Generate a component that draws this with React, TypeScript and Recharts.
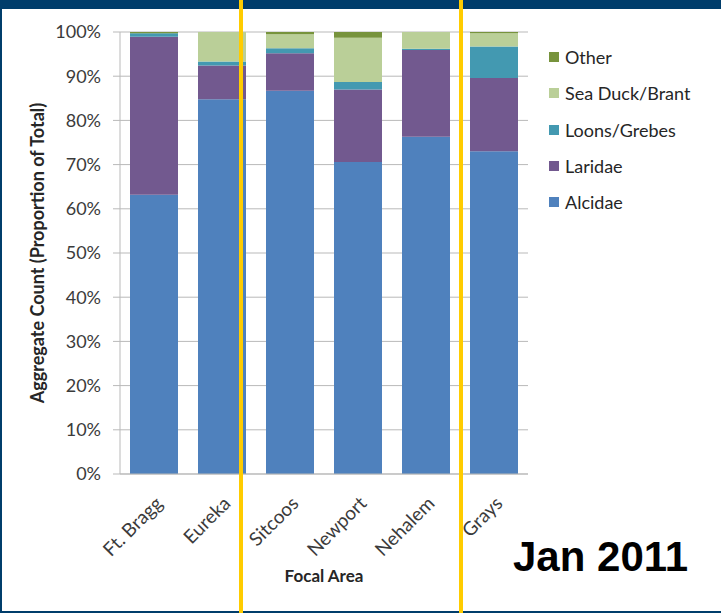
import { BarChart, Bar, XAxis, YAxis, CartesianGrid, Legend, Label } from 'recharts';

// focal areas along the coast
const areas = ['Ft. Bragg', 'Eureka', 'Sitcoos', 'Newport', 'Nehalem', 'Grays'];

// proportion of total count (%)
const alcidae = [63.2, 84.8, 86.7, 70.6, 76.3, 73.0];
const laridae = [35.7, 7.6, 8.5, 16.4, 19.6, 16.6];
const loonsGrebes = [0.8, 0.9, 1.1, 1.7, 0.3, 7.1];
const seaDuckBrant = [0.0, 6.7, 3.2, 10.0, 3.8, 3.0];
const other = [0.3, 0.0, 0.5, 1.3, 0.0, 0.3];

// stacking order, bottom to top
const seriesNames = ['Alcidae', 'Laridae', 'Loons/Grebes', 'Sea Duck/Brant', 'Other'];
const seriesColors = ['#4F81BD', '#72598F', '#4399B1', '#BACF98', '#77933C'];

const yTicks = [0, 10, 20, 30, 40, 50, 60, 70, 80, 90, 100];
// category boundaries (tick marks sit between the bars)
const edges = [0, 1, 2, 3, 4, 5, 6];

const rows = areas.map((name, i) => ({
    name,
    edge: i + 0.5,
    Alcidae: alcidae[i],
    Laridae: laridae[i],
    'Loons/Grebes': loonsGrebes[i],
    'Sea Duck/Brant': seaDuckBrant[i],
    Other: other[i],
}));

const FONT = 'Lato, "Open Sans", sans-serif';
const TEXT = '#3b3b3b';
const GRID = '#b9b9b9';

function CatTick(props: any) {
    const { x, y, payload } = props;
    return (
        <text
            transform={`translate(${x + 5},${y + 24}) rotate(-45)`}
            textAnchor="end"
            dy="0.35em"
            fontFamily={FONT}
            fontSize={19}
            fill={TEXT}
        >
            {payload.value}
        </text>
    );
}

function LegendBox(props: any) {
    const items = [...(props.payload || [])]
        .sort((a: any, b: any) => seriesNames.indexOf(b.value) - seriesNames.indexOf(a.value));
    return (
        <div style={{ fontFamily: FONT, fontSize: 18, color: '#262626' }}>
            {items.map((it: any) => (
                <div key={it.value} style={{ display: 'flex', alignItems: 'center', height: 36.3 }}>
                    <span style={{ display: 'inline-block', width: 10, height: 10, background: it.color, marginRight: 6 }} />
                    <span>{it.value}</span>
                </div>
            ))}
        </div>
    );
}

export default function App() {
    return (
        <div style={{ position: 'fixed', left: 0, top: 0, width: 721, height: 613, background: '#fff', overflow: 'hidden' }}>
            <BarChart width={721} height={613} data={rows} barSize={48}
                margin={{ top: 32, right: 193, bottom: 137, left: 0 }}>
                <CartesianGrid vertical={false} stroke={GRID} xAxisId="cat" />
                <XAxis xAxisId="cat" dataKey="name" height={1} interval={0} tickLine={false} tickSize={0}
                    axisLine={{ stroke: GRID }} tick={<CatTick />}>
                    <Label content={(p: any) => {
                        const vb = p.viewBox;
                        return (
                            <text x={vb.x + vb.width / 2} y={vb.y + 108} textAnchor="middle"
                                fontFamily={FONT} fontWeight="bold" fontSize={17} fill="#262626">Focal Area</text>
                        );
                    }} />
                </XAxis>
                <XAxis xAxisId="edge" dataKey="edge" type="number" domain={[0, 6]} ticks={edges}
                    height={1} tick={false} axisLine={false} tickSize={6} tickLine={{ stroke: GRID }} />
                <YAxis width={120} domain={[0, 100]} ticks={yTicks} interval={0}
                    tickFormatter={(v: number) => `${v}%`} tickSize={7} tickMargin={12}
                    tickLine={{ stroke: GRID }} axisLine={{ stroke: GRID }}
                    tick={{ fontFamily: FONT, fontSize: 18, fill: TEXT }}>
                    <Label content={(p: any) => {
                        const vb = p.viewBox;
                        return (
                            <text transform={`translate(${vb.x + 44},${vb.y + vb.height / 2}) rotate(-90)`}
                                textAnchor="middle" fontFamily={FONT} fontWeight="bold" fontSize={18} fill="#262626">
                                Aggregate Count (Proportion of Total)
                            </text>
                        );
                    }} />
                </YAxis>
                <Legend layout="vertical" align="center" verticalAlign="middle" content={<LegendBox />}
                    wrapperStyle={{ left: 549, top: 39, width: 170 }} />
                {seriesNames.map((s, i) => (
                    <Bar key={s} xAxisId="cat" dataKey={s} stackId="s" fill={seriesColors[i]} isAnimationActive={false} />
                ))}
            </BarChart>

            {/* slide frame */}
            <div style={{ position: 'absolute', left: 0, top: 0, width: 721, height: 9, background: '#003D6B' }} />
            <div style={{ position: 'absolute', left: 0, top: 0, width: 2, height: 613, background: '#003D6B' }} />
            <div style={{ position: 'absolute', left: 0, top: 611, width: 721, height: 2, background: '#003D6B' }} />

            {/* yellow dividers */}
            <div style={{ position: 'absolute', left: 239, top: 0, width: 4, height: 613, background: '#FFCC00' }} />
            <div style={{ position: 'absolute', left: 459, top: 0, width: 4, height: 613, background: '#FFCC00' }} />

            <div style={{
                position: 'absolute', left: 513, top: 536, fontFamily: '"Liberation Sans", Arial, sans-serif',
                fontWeight: 'bold', fontSize: 42, lineHeight: 1, color: '#000', whiteSpace: 'nowrap',
            }}>Jan 2011</div>
        </div>
    );
}
